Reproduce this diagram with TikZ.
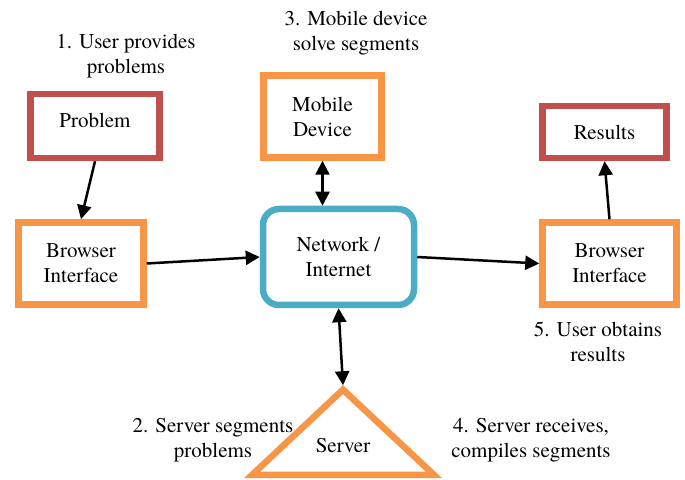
\documentclass[tikz,border=0pt]{standalone}
\usepackage{fontspec}
\setmainfont{TeX Gyre Termes}
\usetikzlibrary{positioning,arrows.meta}
\definecolor{boxred}{HTML}{C0504D}
\definecolor{boxorange}{HTML}{F79646}
\definecolor{boxblue}{HTML}{4BACC6}

\begin{document}
\begin{tikzpicture}[x=1pt,y=1pt,
    every node/.style={font=\fontsize{21}{25}\selectfont, align=center},
    redbox/.style={draw=boxred, line width=6.5pt},
    orangebox/.style={draw=boxorange, line width=6.5pt},
    bluebox/.style={draw=boxblue, line width=6.5pt, rounded corners=16pt},
    lbl/.style={inner sep=0pt},
    flow/.style={line width=2.5pt, -{Triangle[length=14pt,width=14pt]}},
    twoway/.style={line width=2.5pt, {Triangle[length=14pt,width=14pt]}-{Triangle[length=14pt,width=14pt]}}]
    \useasboundingbox (0,0) rectangle (685,479);

    \node[bluebox, minimum width=151pt, minimum height=96pt] (net) at (338.5,222) {Network /\\Internet};
    \node[orangebox, minimum width=125pt, minimum height=82pt, left=113pt of net, yshift=-6.5pt] (bleft) {Browser\\Interface};
    \node[orangebox, minimum width=134pt, minimum height=82pt, right=122pt of net, yshift=-6.5pt] (bright) {Browser\\Interface};
    \node[orangebox, minimum width=118pt, minimum height=82pt, above=45pt of net, xshift=-16pt] (mob) {Mobile\\Device};
    \node[redbox, minimum width=129pt, minimum height=64pt, text depth=10.5pt, above=58pt of bleft, xshift=14pt] (prob) {Problem};
    \node[redbox, minimum width=124pt, minimum height=52pt, above=58pt of bright, xshift=-5pt] (res) {Results};
    \coordinate[below=77pt of net, xshift=4.5pt] (srv);
    \draw[boxorange, line width=6.5pt, line join=miter] ([yshift=-4.4pt]srv) -- ++(-91,-85.3) -- ++(182,0) -- cycle;
    \node[lbl, below=53pt of srv] (srvtext) {Server};

    % step labels
    \node[lbl, above=12pt of prob, xshift=31pt] (step1) {1. User provides\\problems};
    \node[lbl, above=17pt of mob, xshift=33.5pt] (step3) {3. Mobile device\\solve segments};
    \node[lbl, below=14.5pt of bright, xshift=-11.5pt] (step5) {5. User obtains\\results};
    \node[lbl] (step2) at (213,38.4) {2. Server segments\\problems};
    \node[lbl] (step4) at (531,38.4) {4. Server receives,\\compiles segments};

    \draw[flow] (prob.south) -- (bleft.north);
    \draw[flow] (bleft.east) -- (net.west);
    \draw[flow] (net.east) -- (bright.west);
    \draw[flow] (bright.north) -- (res.south);
    \draw[twoway] (mob) -- (mob |- net.north);
    \draw[twoway] (net.south) -- (srv);
\end{tikzpicture}
\end{document}
